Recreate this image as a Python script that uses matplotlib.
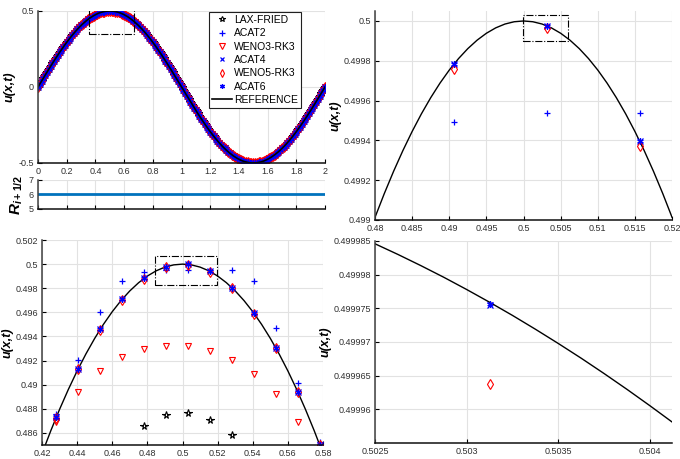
import matplotlib
matplotlib.use("Agg")
import matplotlib.pyplot as plt
from matplotlib import font_manager as fm
from matplotlib.patches import Rectangle

# MATLAB export looks horizontally squeezed -> use a narrow face if one is installed
narrow_font = None
for f in fm.fontManager.ttflist:
    if f.name == "Liberation Sans Narrow" and f.style == "normal":
        narrow_font = (f.name, f.stretch)
        break
if narrow_font is None:
    for f in fm.fontManager.ttflist:
        if f.name in ("Open Sans", "Noto Sans", "Roboto") and "condensed" in str(f.stretch) \
                and f.style == "normal" and f.weight in (400, "normal", "regular"):
            narrow_font = (f.name, f.stretch)
            break

if narrow_font:
    plt.rcParams["font.family"] = [narrow_font[0], "Liberation Sans", "DejaVu Sans"]
    plt.rcParams["font.stretch"] = narrow_font[1]
    tick_fs, leg_fs = 7, 8.5
else:
    plt.rcParams["font.family"] = ["Liberation Sans", "DejaVu Sans"]
    tick_fs, leg_fs = 6.5, 7.5
plt.rcParams["mathtext.fontset"] = "custom"
plt.rcParams["mathtext.it"] = "Liberation Sans:italic:bold"
plt.rcParams["mathtext.rm"] = "Liberation Sans:bold"

# overview: u(x,t) over the whole domain (schemes overlap at this scale)
x_full = [0.0, 0.0125, 0.025, 0.0375, 0.05, 0.0625, 0.075, 0.0875,
          0.1, 0.1125, 0.125, 0.1375, 0.15, 0.1625, 0.175, 0.1875,
          0.2, 0.2125, 0.225, 0.2375, 0.25, 0.2625, 0.275, 0.2875,
          0.3, 0.3125, 0.325, 0.3375, 0.35, 0.3625, 0.375, 0.3875,
          0.4, 0.4125, 0.425, 0.4375, 0.45, 0.4625, 0.475, 0.4875,
          0.5, 0.5125, 0.525, 0.5375, 0.55, 0.5625, 0.575, 0.5875,
          0.6, 0.6125, 0.625, 0.6375, 0.65, 0.6625, 0.675, 0.6875,
          0.7, 0.7125, 0.725, 0.7375, 0.75, 0.7625, 0.775, 0.7875,
          0.8, 0.8125, 0.825, 0.8375, 0.85, 0.8625, 0.875, 0.8875,
          0.9, 0.9125, 0.925, 0.9375, 0.95, 0.9625, 0.975, 0.9875,
          1.0, 1.0125, 1.025, 1.0375, 1.05, 1.0625, 1.075, 1.0875,
          1.1, 1.1125, 1.125, 1.1375, 1.15, 1.1625, 1.175, 1.1875,
          1.2, 1.2125, 1.225, 1.2375, 1.25, 1.2625, 1.275, 1.2875,
          1.3, 1.3125, 1.325, 1.3375, 1.35, 1.3625, 1.375, 1.3875,
          1.4, 1.4125, 1.425, 1.4375, 1.45, 1.4625, 1.475, 1.4875,
          1.5, 1.5125, 1.525, 1.5375, 1.55, 1.5625, 1.575, 1.5875,
          1.6, 1.6125, 1.625, 1.6375, 1.65, 1.6625, 1.675, 1.6875,
          1.7, 1.7125, 1.725, 1.7375, 1.75, 1.7625, 1.775, 1.7875,
          1.8, 1.8125, 1.825, 1.8375, 1.85, 1.8625, 1.875, 1.8875,
          1.9, 1.9125, 1.925, 1.9375, 1.95, 1.9625, 1.975, 1.9875,
          2.0]
u_full = [0.0, 0.0196, 0.0392, 0.0588, 0.0782, 0.0975, 0.1167, 0.1357,
          0.1545, 0.1731, 0.1913, 0.2093, 0.2270, 0.2443, 0.2612, 0.2778,
          0.2939, 0.3095, 0.3247, 0.3394, 0.3536, 0.3672, 0.3802, 0.3927,
          0.4045, 0.4157, 0.4263, 0.4362, 0.4455, 0.4541, 0.4619, 0.4691,
          0.4755, 0.4812, 0.4862, 0.4904, 0.4938, 0.4965, 0.4985, 0.4996,
          0.5, 0.4996, 0.4985, 0.4965, 0.4938, 0.4904, 0.4862, 0.4812,
          0.4755, 0.4691, 0.4619, 0.4541, 0.4455, 0.4362, 0.4263, 0.4157,
          0.4045, 0.3927, 0.3802, 0.3672, 0.3536, 0.3394, 0.3247, 0.3095,
          0.2939, 0.2778, 0.2612, 0.2443, 0.2270, 0.2093, 0.1913, 0.1731,
          0.1545, 0.1357, 0.1167, 0.0975, 0.0782, 0.0588, 0.0392, 0.0196,
          0.0, -0.0196, -0.0392, -0.0588, -0.0782, -0.0975, -0.1167, -0.1357,
          -0.1545, -0.1731, -0.1913, -0.2093, -0.2270, -0.2443, -0.2612, -0.2778,
          -0.2939, -0.3095, -0.3247, -0.3394, -0.3536, -0.3672, -0.3802, -0.3927,
          -0.4045, -0.4157, -0.4263, -0.4362, -0.4455, -0.4541, -0.4619, -0.4691,
          -0.4755, -0.4812, -0.4862, -0.4904, -0.4938, -0.4965, -0.4985, -0.4996,
          -0.5, -0.4996, -0.4985, -0.4965, -0.4938, -0.4904, -0.4862, -0.4812,
          -0.4755, -0.4691, -0.4619, -0.4541, -0.4455, -0.4362, -0.4263, -0.4157,
          -0.4045, -0.3927, -0.3802, -0.3672, -0.3536, -0.3394, -0.3247, -0.3095,
          -0.2939, -0.2778, -0.2612, -0.2443, -0.2270, -0.2093, -0.1913, -0.1731,
          -0.1545, -0.1357, -0.1167, -0.0975, -0.0782, -0.0588, -0.0392, -0.0196,
          0.0]

# R_{i+1/2} indicator
r_x = [0.0, 2.0]
r_val = [6.0, 6.0]

# zoomed points near the crest
x_pts = [0.428125, 0.440625, 0.453125, 0.465625, 0.478125, 0.490625, 0.503125,
         0.515625, 0.528125, 0.540625, 0.553125, 0.565625, 0.578125]
lax_x = [0.478125, 0.490625, 0.503125, 0.515625, 0.528125]
lax_u = [0.48654, 0.48748, 0.48768, 0.48709, 0.48579]
acat2_u = [0.48759, 0.49208, 0.49604, 0.49859, 0.49931, 0.49949, 0.49954,
           0.49954, 0.49952, 0.49859, 0.49471, 0.49014, 0.48521]
weno3_x = x_pts[:12]
weno3_u = [0.4869, 0.48939, 0.49111, 0.4923, 0.49294, 0.49324, 0.49319,
           0.4928, 0.49208, 0.49086, 0.4892, 0.48693]
acat4_u = [0.487308, 0.491327, 0.494589, 0.497088, 0.498820, 0.4997831, 0.4999755,
           0.4993977, 0.498050, 0.495933, 0.493053, 0.489412, 0.485016]
weno5_u = [0.48727, 0.49129, 0.49456, 0.49706, 0.49879, 0.49976, 0.4999637,
           0.49937, 0.49802, 0.49590, 0.49302, 0.48938, 0.48499]
acat6_u = [0.487308, 0.491327, 0.494589, 0.497088, 0.498820, 0.4997831, 0.4999757,
           0.4993977, 0.498050, 0.495933, 0.493053, 0.489412, 0.485016]

# reference curve, sampled for each zoom window
ref_x_wide = [0.42, 0.425, 0.43, 0.435, 0.44, 0.445, 0.45, 0.455, 0.46, 0.465,
              0.47, 0.475, 0.48, 0.485, 0.49, 0.495, 0.5, 0.505, 0.51, 0.515,
              0.52, 0.525, 0.53, 0.535, 0.54, 0.545, 0.55, 0.555, 0.56, 0.565,
              0.57, 0.575, 0.58]
ref_u_wide = [0.4842916, 0.4861850, 0.4879584, 0.4896114, 0.4911436, 0.4925547,
              0.4938442, 0.4950119, 0.4960574, 0.4969805, 0.4977810, 0.4984587,
              0.4990134, 0.4994449, 0.4997533, 0.4999383, 0.5, 0.4999383,
              0.4997533, 0.4994449, 0.4990134, 0.4984587, 0.4977810, 0.4969805,
              0.4960574, 0.4950119, 0.4938442, 0.4925547, 0.4911436, 0.4896114,
              0.4879584, 0.4861850, 0.4842916]
ref_x_peak = [0.48, 0.48125, 0.4825, 0.48375, 0.485, 0.48625, 0.4875, 0.48875,
              0.49, 0.49125, 0.4925, 0.49375, 0.495, 0.49625, 0.4975, 0.49875,
              0.5, 0.50125, 0.5025, 0.50375, 0.505, 0.50625, 0.5075, 0.50875,
              0.51, 0.51125, 0.5125, 0.51375, 0.515, 0.51625, 0.5175, 0.51875, 0.52]
ref_u_peak = [0.4990134, 0.4991328, 0.4992446, 0.4993486, 0.4994449, 0.4995336,
              0.4996145, 0.4996878, 0.4997533, 0.4998111, 0.4998612, 0.4999036,
              0.4999383, 0.4999653, 0.4999846, 0.4999961, 0.5, 0.4999961,
              0.4999846, 0.4999653, 0.4999383, 0.4999036, 0.4998612, 0.4998111,
              0.4997533, 0.4996878, 0.4996145, 0.4995336, 0.4994449, 0.4993486,
              0.4992446, 0.4991328, 0.4990134]
ref_x_tip = [0.5025, 0.502625, 0.50275, 0.502875, 0.503, 0.503125, 0.50325, 0.503375,
             0.5035, 0.503625, 0.50375, 0.503875, 0.504, 0.504125, 0.50425]
ref_u_tip = [0.49998458, 0.49998300, 0.49998134, 0.49997961, 0.49997779, 0.49997590,
             0.49997394, 0.49997189, 0.49996977, 0.49996758, 0.49996530, 0.49996295,
             0.49996052, 0.49995802, 0.49995543]

# dash-dot zoom boxes [x0, x1, y0, y1]
box_top = [0.355, 0.67, 0.35, 0.525]
box_wide = [0.4845, 0.5196, 0.49823, 0.50069]
box_peak = [0.49987, 0.50598, 0.49990, 0.50003]

names = ["LAX-FRIED", "ACAT2", "WENO3-RK3", "ACAT4", "WENO5-RK3", "ACAT6"]
styles = {
    "LAX-FRIED": dict(marker="*", color="k", mfc="none", ms=5.5, mew=0.8),
    "ACAT2": dict(marker="+", color="b", ms=5, mew=0.9),
    "WENO3-RK3": dict(marker="v", color="r", mfc="none", ms=5, mew=0.8),
    "ACAT4": dict(marker="x", color="b", ms=4, mew=0.9),
    "WENO5-RK3": dict(marker="d", color="r", mfc="none", ms=5, mew=0.8),
    "ACAT6": dict(marker=(6, 2, 0), color="b", ms=4.5, mew=0.9),
}
zoom_data = {
    "LAX-FRIED": (lax_x, lax_u),
    "ACAT2": (x_pts, acat2_u),
    "WENO3-RK3": (weno3_x, weno3_u),
    "ACAT4": (x_pts, acat4_u),
    "WENO5-RK3": (x_pts, weno5_u),
    "ACAT6": (x_pts, acat6_u),
}


def style_axes(ax, xt, yt, xlim, ylim):
    ax.set_xlim(xlim)
    ax.set_ylim(ylim)
    ax.set_xticks(xt)
    ax.set_xticklabels(["%g" % v for v in xt])
    ax.set_yticks(yt)
    ax.set_yticklabels(["%g" % v for v in yt])
    ax.spines["top"].set_visible(False)
    ax.spines["right"].set_visible(False)
    ax.spines["left"].set_color("#404040")
    ax.spines["bottom"].set_color("#101010")
    ax.spines["left"].set_linewidth(1.1)
    ax.spines["bottom"].set_linewidth(1.1)
    ax.tick_params(direction="in", length=3, width=0.8, labelsize=tick_fs,
                   labelcolor="#303030", pad=3)
    ax.grid(True, color="#e2e2e2", lw=0.8)
    ax.set_axisbelow(True)


def draw_box(ax, b):
    ax.add_patch(Rectangle((b[0], b[2]), b[1] - b[0], b[3] - b[2], fill=False,
                           ec="k", lw=0.8, ls="-.", zorder=5))


ulabel = dict(fontsize=9, fontweight="bold", fontstyle="italic",
              family="Liberation Sans", fontstretch="normal")

fig = plt.figure(figsize=(6.8, 4.59), dpi=100)

# ---- top-left overview
ax1 = fig.add_axes([0.0559, 0.6449, 0.4221, 0.3312])
for n in names:
    ax1.plot(x_full, u_full, ls="none", label=n, **styles[n])
ax1.plot(x_full, u_full, "k-", lw=1.2, label="REFERENCE")
draw_box(ax1, box_top)
style_axes(ax1, [0, 0.2, 0.4, 0.6, 0.8, 1, 1.2, 1.4, 1.6, 1.8, 2], [-0.5, 0, 0.5],
           (0, 2), (-0.5, 0.5))
ax1.set_ylabel("u(x,t)", labelpad=2, **ulabel)
leg = ax1.legend(loc="upper right", bbox_to_anchor=(0.915, 0.9934), borderaxespad=0,
                 fontsize=leg_fs, frameon=True, fancybox=False, framealpha=1,
                 edgecolor="#202020", handlelength=1.9, handletextpad=0.2,
                 labelspacing=0.32, borderpad=0.3, markerscale=0.8)
leg.get_frame().set_linewidth(0.8)

# ---- R_{i+1/2} strip
axR = fig.add_axes([0.0559, 0.5447, 0.4221, 0.0632])
axR.plot(r_x, r_val, color="#0072BD", lw=2)
style_axes(axR, [0, 0.2, 0.4, 0.6, 0.8, 1, 1.2, 1.4, 1.6, 1.8, 2], [5, 6, 7], (0, 2), (5, 7))
axR.tick_params(labelbottom=False)
axR.set_ylabel(r"$R_{i+1/2}$", fontsize=11, labelpad=3)

# ---- bottom-left zoom
ax2 = fig.add_axes([0.0618, 0.0305, 0.4132, 0.4466])
ax2.plot(ref_x_wide, ref_u_wide, "k-", lw=1.0)
for n in names:
    xs, us = zoom_data[n]
    ax2.plot(xs, us, ls="none", **styles[n])
draw_box(ax2, box_wide)
style_axes(ax2, [0.42, 0.44, 0.46, 0.48, 0.5, 0.52, 0.54, 0.56, 0.58],
           [0.486, 0.488, 0.49, 0.492, 0.494, 0.496, 0.498, 0.5, 0.502],
           (0.42, 0.58), (0.485, 0.502))
ax2.set_ylabel("u(x,t)", labelpad=1, **ulabel)

# ---- top-right zoom
ax3 = fig.add_axes([0.5515, 0.5207, 0.4368, 0.4553])
ax3.plot(ref_x_peak, ref_u_peak, "k-", lw=1.0)
for n in names:
    xs, us = zoom_data[n]
    ax3.plot(xs, us, ls="none", **styles[n])
draw_box(ax3, box_peak)
style_axes(ax3, [0.48, 0.485, 0.49, 0.495, 0.5, 0.505, 0.51, 0.515, 0.52],
           [0.499, 0.4992, 0.4994, 0.4996, 0.4998, 0.5],
           (0.48, 0.52), (0.499, 0.50005))
ax3.set_ylabel("u(x,t)", labelpad=1, **ulabel)

# ---- bottom-right zoom
ax4 = fig.add_axes([0.5515, 0.0349, 0.4368, 0.4401])
ax4.plot(ref_x_tip, ref_u_tip, "k-", lw=1.0)
for n in names:
    xs, us = zoom_data[n]
    ax4.plot(xs, us, ls="none", **styles[n])
style_axes(ax4, [0.5025, 0.503, 0.5035, 0.504],
           [0.49996, 0.499965, 0.49997, 0.499975, 0.49998, 0.499985],
           (0.5025, 0.50412), (0.499955, 0.499985))
ax4.set_ylabel("u(x,t)", labelpad=1, **ulabel)

fig.savefig("out.png", dpi=100)
